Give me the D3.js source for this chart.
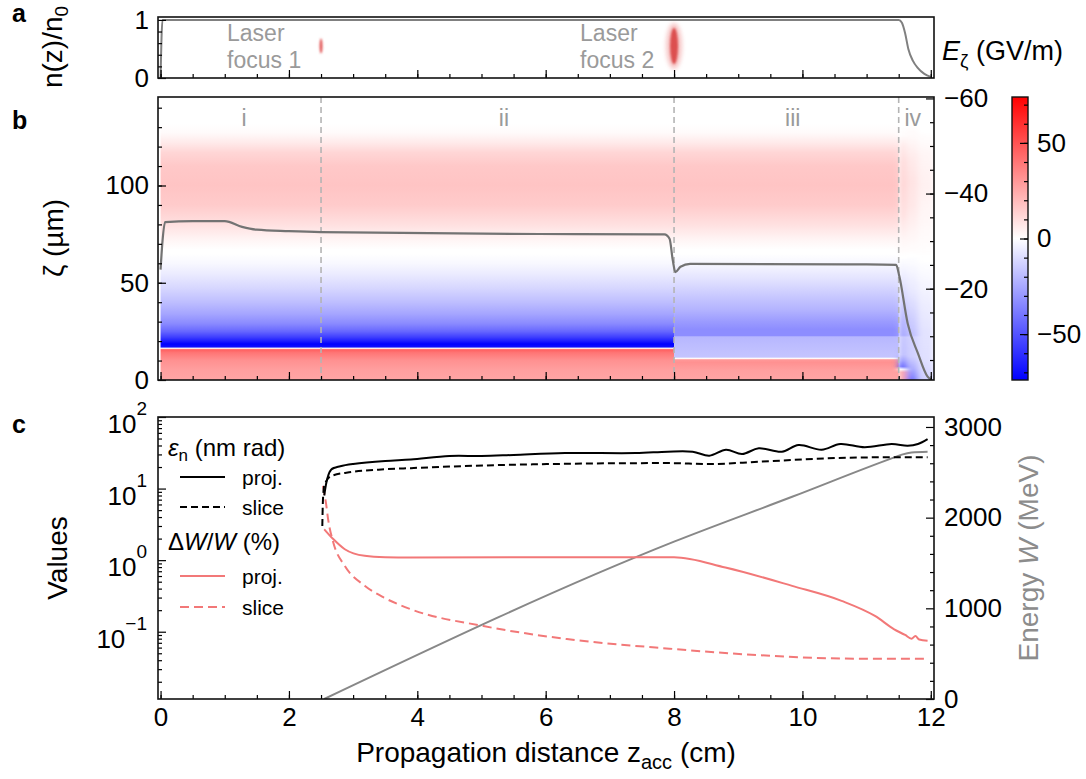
<!DOCTYPE html>
<html>
<head>
<meta charset="utf-8">
<script src="https://cdn.jsdelivr.net/npm/d3@7"></script>
<style>
  body { margin: 0; background: #fff; }
  svg text { font-family: "Liberation Sans", Arial, sans-serif; }
</style>
</head>
<body>
<svg id="fig" width="1086" height="779"></svg>
<script>
// ---------------- data ----------------
// panel a: plasma density n(z)/n0
const densityProfile = [[0, 0], [0.03, 1], [11.5, 1], [11.55, 0.95], [11.6, 0.77], [11.65, 0.5],
  [11.72, 0.3], [11.8, 0.17], [11.9, 0.07], [12, 0.02]];
const laserFoci = [{ z: 2.5, n: 0.55, label: ["Laser", "focus 1"] }, { z: 8, n: 0.55, label: ["Laser", "focus 2"] }];

// panel b: stages and on-axis field E_zeta(zeta) for each stretch of z
const stageBoundaries = [2.5, 8, 11.5];
const stageNames = ["i", "ii", "iii", "iv"];
const stageNameZ = [1.3, 5.35, 9.85, 11.72];

const upperPink = [[67, 0], [72, 3], [80, 9], [90, 15], [100, 17], [110, 16], [117, 12], [122, 6], [127, 1.5], [132, 0], [146, 0]];
const fieldStage12 = [[0, 26], [5, 28], [10, 32], [14, 40], [15.6, 46], [16.3, 0], [17, -70], [18.5, -74],
  [20, -66], [22, -56], [25, -44], [29, -34], [34, -26], [40, -19], [47, -12], [54, -6], [60, -2], [65, 0]].concat(upperPink);
const fieldStage3 = [[0, 26], [5, 28], [9, 32], [10.4, 30], [11.1, 0], [11.8, -17], [17, -19], [22.2, -21],
  [22.8, -33], [26, -33], [30, -29], [36, -22], [44, -15], [52, -8], [59, -3], [65, 0]].concat(upperPink);
const fieldStage4a = [[0, 26], [4, 28], [5.5, 0], [7, -50], [10, -32], [13, -20], [22, -18], [23, -28], [30, -24],
  [40, -15], [55, -5], [63, 0], [72, 3], [85, 10], [100, 13], [112, 11], [120, 7], [126, 1], [132, 0], [146, 0]];
const fieldStage4b = [[0, -40], [6, -24], [12, -14], [22, -13], [23, -18], [32, -14], [45, -7], [58, -2], [64, 0],
  [75, 3], [90, 7], [102, 8], [114, 6], [124, 2], [132, 0], [146, 0]];
const fieldStage4c = [[0, -14], [10, -9], [25, -8], [40, -5], [55, -1.5], [62, 0], [80, 2], [100, 4], [115, 3], [128, 0], [146, 0]];

const fieldColumns = [
  { z0: 0, z1: 8, profile: fieldStage12 },
  { z0: 8, z1: 11.5, profile: fieldStage3 },
  { z0: 11.5, z1: 11.62, profile: fieldStage4a, soft: true },
  { z0: 11.62, z1: 11.8, profile: fieldStage4b, soft: true },
  { z0: 11.8, z1: 12.05, profile: fieldStage4c, soft: true },
];

// panel b: wakefield amplitude (right axis, GV/m)
const wakeAmplitude = [[0, -24], [0.03, -30], [0.07, -34], [0.5, -34.2], [1.0, -34.2], [1.27, -33], [1.5, -32.4],
  [2.0, -32.1], [2.5, -31.9], [5.9, -31.5], [7.85, -31.4], [7.93, -30.5], [7.98, -26], [8.02, -23.5], [8.1, -24.6],
  [8.25, -25.2], [11.0, -25.1], [11.46, -25], [11.51, -22.6], [11.64, -12.7], [11.8, -6.4], [11.95, -1.5], [12, -0.9]];

// panel c
const emittanceProj = [[2.55, 8], [2.6, 14], [2.66, 18.5], [2.8, 20.5], [3.0, 22], [3.5, 24.3], [3.9, 25.5],
  [4.5, 28.5], [5.0, 28.5], [5.5, 29.5], [6.3, 31.3], [7.4, 31.3], [7.9, 32.8], [8.29, 32.7], [8.55, 28.8],
  [8.81, 34.9], [9.06, 30.4], [9.32, 36.5], [9.68, 32.7], [9.94, 40.6], [10.3, 34.9], [10.59, 41.9],
  [10.97, 37.7], [11.39, 41.9], [11.64, 39.7], [11.8, 42], [11.95, 49.2]];
const emittanceSlice = [[2.52, 3.0], [2.53, 7], [2.55, 11], [2.66, 15], [2.97, 17], [3.5, 18.6], [3.9, 19.3],
  [4.5, 20.3], [5.8, 21.8], [7.9, 22.7], [8.55, 22], [9.32, 23.7], [10.35, 26.4], [11.39, 27.4], [11.95, 27.4]];
const spreadProj = [[2.55, 2.7], [2.69, 1.97], [2.87, 1.42], [3.18, 1.15], [3.5, 1.1], [3.9, 1.09], [8.0, 1.1],
  [8.8, 0.79], [9.84, 0.437], [10.61, 0.27], [11.13, 0.166], [11.43, 0.108], [11.6, 0.09], [11.7, 0.08],
  [11.76, 0.087], [11.82, 0.078], [11.95, 0.075]];
const spreadSlice = [[2.53, 10.9], [2.58, 6], [2.61, 3.75], [2.69, 1.78], [2.87, 0.83], [3.18, 0.44], [3.48, 0.30],
  [3.9, 0.206], [5.03, 0.12], [6.33, 0.079], [7.93, 0.058], [9.32, 0.047], [10.87, 0.042], [11.95, 0.042]];
const beamEnergy = [[2.55, 0], [8.0, 1735], [9.84, 2230], [11.39, 2654], [11.55, 2695], [11.7, 2718], [11.95, 2727]];

const xMajor = [0, 2, 4, 6, 8, 10, 12];
const xMinor = d3.range(0, 12.01, 0.5);

// ---------------- layout ----------------
const svg = d3.select("#fig");
svg.append("rect").attr("width", 1086).attr("height", 779).attr("fill", "#fff");
const defs = svg.append("defs");
const left = 158, right = 934;
const pa = { top: 17, bottom: 78 }, pb = { top: 97, bottom: 380 }, pc = { top: 417, bottom: 699 };
const gray = "#9a9a9a", red = "#f27878";

const x = d3.scaleLinear().domain([-0.04, 12.05]).range([left, right]);
const yDens = d3.scaleLinear().domain([0, 1.05]).range([pa.bottom, pa.top]);
const yZeta = d3.scaleLinear().domain([0, 145.5]).range([pb.bottom, pb.top]);
const yWake = d3.scaleLinear().domain([-0.8, -60.3]).range([pb.bottom, pb.top]);
const fieldColor = d3.scaleLinear().domain([-74, 0, 74]).range(["#0000ff", "#ffffff", "#ff0000"]);
const yCbar = d3.scaleLinear().domain([-74, 74]).range([pb.bottom, pb.top]);
const yVal = d3.scaleLog().domain([Math.pow(10, -1.94), 100]).range([pc.bottom, pc.top]);
const yEnergy = d3.scaleLinear().domain([0, 3110]).range([pc.bottom, pc.top]);

function addAxis(orient, scale, transform, major, minor, fmt, pad = 9) {
  const g = svg.append("g").attr("transform", transform);
  if (minor) g.append("g").call(orient(scale).tickValues(minor).tickSize(-4).tickFormat(""));
  g.append("g").call(orient(scale).tickValues(major).tickSize(-8).tickPadding(pad).tickFormat(fmt || (() => "")));
  g.selectAll(".domain").remove();
  g.selectAll("line").attr("stroke", "#000").attr("stroke-width", 1.2);
  g.selectAll("text").attr("font-size", 26).attr("fill", "#000");
  return g;
}
function clip(id, top, bottom) {
  defs.append("clipPath").attr("id", id).append("rect")
    .attr("x", left).attr("y", top).attr("width", right - left).attr("height", bottom - top);
}
function frame(top, bottom) {
  svg.append("rect").attr("x", left).attr("y", top).attr("width", right - left).attr("height", bottom - top)
    .attr("fill", "none").attr("stroke", "#111").attr("stroke-width", 1.6);
}
function panelLabel(t, y) {
  svg.append("text").attr("x", 12).attr("y", y).attr("font-size", 25).attr("font-weight", "bold").text(t);
}
function yTitle(xb, yc, build, color = "#000") {
  const t = svg.append("text").attr("transform", `translate(${xb},${yc}) rotate(-90)`)
    .attr("text-anchor", "middle").attr("font-size", 28).attr("fill", color);
  build(t);
}

// ---------------- panel a ----------------
clip("clipA", pa.top, pa.bottom);
const gA = svg.append("g").attr("clip-path", "url(#clipA)");
const blurS = defs.append("filter").attr("id", "blurS").attr("x", "-200%").attr("y", "-50%").attr("width", "500%").attr("height", "200%");
blurS.append("feGaussianBlur").attr("stdDeviation", 0.9);
const blurL = defs.append("filter").attr("id", "blurL").attr("x", "-200%").attr("y", "-50%").attr("width", "500%").attr("height", "200%");
blurL.append("feGaussianBlur").attr("stdDeviation", 2.2);

laserFoci.forEach((f, i) => {
  const cx = x(f.z), cy = yDens(f.n);
  if (i === 0) {
    gA.append("ellipse").attr("cx", cx).attr("cy", cy).attr("rx", 1.4).attr("ry", 7.5)
      .attr("fill", "#e04848").attr("filter", "url(#blurS)");
  } else {
    gA.append("ellipse").attr("cx", cx).attr("cy", cy).attr("rx", 8).attr("ry", 23)
      .attr("fill", "#ec8080").attr("opacity", 0.45).attr("filter", "url(#blurL)");
    gA.append("ellipse").attr("cx", cx).attr("cy", cy).attr("rx", 4).attr("ry", 18)
      .attr("fill", "#dc5050").attr("filter", "url(#blurS)");
  }
  const t = svg.append("text").attr("fill", gray).attr("font-size", 23);
  t.append("tspan").attr("x", x(f.z) - 94).attr("y", 41).text(f.label[0]);
  t.append("tspan").attr("x", x(f.z) - 94).attr("y", 68).text(f.label[1]);
});

gA.append("path").datum(densityProfile)
  .attr("fill", "none").attr("stroke", "#808080").attr("stroke-width", 2)
  .attr("d", d3.line().x(d => x(d[0])).y(d => yDens(d[1])).curve(d3.curveMonotoneX));

addAxis(d3.axisBottom, x, `translate(0,${pa.bottom})`, xMajor, xMinor);
addAxis(d3.axisLeft, yDens, `translate(${left},0)`, [0, 1], [0.2, 0.4, 0.6, 0.8], d3.format("d"));
frame(pa.top, pa.bottom);
panelLabel("a", 22);
yTitle(62, 47, t => {
  t.append("tspan").text("n(z)/n");
  t.append("tspan").attr("font-size", 19).attr("dy", 6).text("0");
});

// ---------------- panel b ----------------
clip("clipB", pb.top, pb.bottom);
const gB = svg.append("g").attr("clip-path", "url(#clipB)");
const softBlur = defs.append("filter").attr("id", "soft").attr("x", "-20%").attr("y", "0").attr("width", "140%").attr("height", "100%");
softBlur.append("feGaussianBlur").attr("stdDeviation", "3 0");
const gSoft = gB.append("g");
const gSoftIV = gB.append("g").attr("filter", "url(#soft)");

fieldColumns.forEach((col, i) => {
  const zMax = yZeta.domain()[1];
  const grad = defs.append("linearGradient").attr("id", "fieldGrad" + i)
    .attr("gradientUnits", "userSpaceOnUse")
    .attr("x1", 0).attr("x2", 0).attr("y1", yZeta(0)).attr("y2", yZeta(zMax));
  grad.selectAll("stop").data(col.profile).join("stop")
    .attr("offset", d => Math.min(1, d[0] / zMax))
    .attr("stop-color", d => fieldColor(d[1]));
  (col.soft ? gSoftIV : gSoft).append("rect")
    .attr("x", x(col.z0)).attr("width", x(col.z1) - x(col.z0))
    .attr("y", pb.top).attr("height", pb.bottom - pb.top)
    .attr("fill", `url(#fieldGrad${i})`);
});

gB.selectAll(".stage-line").data(stageBoundaries).join("line")
  .attr("x1", d => x(d)).attr("x2", d => x(d)).attr("y1", pb.top).attr("y2", pb.bottom)
  .attr("stroke", "#b4b4b4").attr("stroke-width", 1.6).attr("stroke-dasharray", "6,4");

gB.append("path").datum(wakeAmplitude)
  .attr("fill", "none").attr("stroke", "#737373").attr("stroke-width", 2.2)
  .attr("d", d3.line().x(d => x(d[0])).y(d => yWake(d[1])).curve(d3.curveMonotoneX));

svg.selectAll(".stage-name").data(stageNames).join("text")
  .attr("x", (d, i) => x(stageNameZ[i])).attr("y", 126)
  .attr("text-anchor", "middle").attr("font-size", 23).attr("fill", gray).text(d => d);

addAxis(d3.axisBottom, x, `translate(0,${pb.bottom})`, xMajor, xMinor);
addAxis(d3.axisLeft, yZeta, `translate(${left},0)`, [0, 50, 100], d3.range(10, 141, 10), d3.format("d"));
addAxis(d3.axisRight, yWake, `translate(${right},0)`, [-60, -40, -20], d3.range(-55, -4, 5), d3.format("d"), 10);
frame(pb.top, pb.bottom);
panelLabel("b", 129);
yTitle(63, 238, t => t.text("ζ (µm)"));

// E_zeta label
const eLab = svg.append("text").attr("x", 942).attr("y", 60).attr("font-size", 27);
eLab.append("tspan").attr("font-style", "italic").text("E");
eLab.append("tspan").attr("font-size", 19).attr("dy", 7).text("ζ");
eLab.append("tspan").attr("dy", -7).text(" (GV/m)");

// colorbar
const cbX = 1012, cbW = 16;
const cbGrad = defs.append("linearGradient").attr("id", "cbGrad").attr("x1", 0).attr("x2", 0).attr("y1", 1).attr("y2", 0);
cbGrad.selectAll("stop").data([-74, 0, 74]).join("stop")
  .attr("offset", d => (d + 74) / 148).attr("stop-color", d => fieldColor(d));
svg.append("rect").attr("x", cbX).attr("y", pb.top).attr("width", cbW).attr("height", pb.bottom - pb.top)
  .attr("fill", "url(#cbGrad)").attr("stroke", "#111").attr("stroke-width", 1.4);
const cbAxis = svg.append("g").attr("transform", `translate(${cbX + cbW},0)`);
cbAxis.append("g").call(d3.axisRight(yCbar).tickValues(d3.range(-70, 71, 10)).tickSize(-4).tickFormat(""));
cbAxis.append("g").call(d3.axisRight(yCbar).tickValues([-50, 0, 50]).tickSize(-8).tickPadding(9).tickFormat(d3.format("d")));
cbAxis.selectAll(".domain").remove();
cbAxis.selectAll("line").attr("stroke", "#000").attr("stroke-width", 1.2);
cbAxis.selectAll("text").attr("font-size", 26).attr("fill", "#000");

// ---------------- panel c ----------------
clip("clipC", pc.top, pc.bottom);
const gC = svg.append("g").attr("clip-path", "url(#clipC)");
const lineVal = d3.line().x(d => x(d[0])).y(d => yVal(d[1]));

gC.append("path").datum(beamEnergy)
  .attr("fill", "none").attr("stroke", "#888").attr("stroke-width", 2)
  .attr("d", d3.line().x(d => x(d[0])).y(d => yEnergy(d[1])).curve(d3.curveMonotoneX));
gC.append("path").datum(spreadSlice)
  .attr("fill", "none").attr("stroke", red).attr("stroke-width", 2).attr("stroke-dasharray", "9,5")
  .attr("d", lineVal.curve(d3.curveMonotoneX));
gC.append("path").datum(spreadProj)
  .attr("fill", "none").attr("stroke", red).attr("stroke-width", 2)
  .attr("d", lineVal.curve(d3.curveMonotoneX));
gC.append("path").datum(emittanceSlice)
  .attr("fill", "none").attr("stroke", "#000").attr("stroke-width", 2).attr("stroke-dasharray", "7,4")
  .attr("d", lineVal.curve(d3.curveMonotoneX));
gC.append("path").datum(emittanceProj)
  .attr("fill", "none").attr("stroke", "#000").attr("stroke-width", 2)
  .attr("d", lineVal.curve(d3.curveCatmullRom.alpha(0.5)));

const logMajor = [0.1, 1, 10, 100];
const logMinor = [];
[0.01, 0.1, 1, 10].forEach(dec => d3.range(2, 10).forEach(m => {
  const v = dec * m;
  if (v >= yVal.domain()[0] && v <= 100) logMinor.push(v);
}));
addAxis(d3.axisBottom, x, `translate(0,${pc.bottom})`, xMajor, xMinor, d3.format("d"), 9);
addAxis(d3.axisLeft, yVal, `translate(${left},0)`, logMajor, logMinor);
addAxis(d3.axisRight, yEnergy, `translate(${right},0)`, [0, 1000, 2000, 3000], d3.range(200, 3001, 200).filter(v => v % 1000), d3.format("d"), 10);
logMajor.forEach(v => {
  const t = svg.append("text").attr("x", 147).attr("y", yVal(v) + 16).attr("text-anchor", "end").attr("font-size", 26);
  t.append("tspan").text("10");
  t.append("tspan").attr("font-size", 19).attr("dy", -18).text(String(Math.round(Math.log10(v))).replace("-", "\u2212"));
});
frame(pc.top, pc.bottom);
panelLabel("c", 433);
yTitle(67, 558, t => t.text("Values"));
yTitle(1038, 558, t => {
  t.append("tspan").text("Energy ");
  t.append("tspan").attr("font-style", "italic").text("W");
  t.append("tspan").text(" (MeV)");
}, "#8c8c8c");

// legend
const leg = svg.append("g");
const h1 = leg.append("text").attr("x", 168).attr("y", 456).attr("font-size", 24);
h1.append("tspan").attr("font-style", "italic").text("ε");
h1.append("tspan").attr("font-size", 17).attr("dy", 5).text("n");
h1.append("tspan").attr("dy", -5).text(" (nm rad)");
const h2 = leg.append("text").attr("x", 168).attr("y", 550).attr("font-size", 24);
h2.append("tspan").text("Δ");
h2.append("tspan").attr("font-style", "italic").text("W");
h2.append("tspan").text("/");
h2.append("tspan").attr("font-style", "italic").text("W");
h2.append("tspan").text(" (%)");
const legendItems = [
  { y: 477, color: "#000", dash: null, label: "proj." },
  { y: 507, color: "#000", dash: "7,4", label: "slice" },
  { y: 576, color: red, dash: null, label: "proj." },
  { y: 607, color: red, dash: "9,5", label: "slice" },
];
legendItems.forEach(it => {
  leg.append("line").attr("x1", 180).attr("x2", 225).attr("y1", it.y).attr("y2", it.y)
    .attr("stroke", it.color).attr("stroke-width", 2).attr("stroke-dasharray", it.dash);
  leg.append("text").attr("x", 242).attr("y", it.y + 7.5).attr("font-size", 21).text(it.label);
});

// x title
const xt = svg.append("text").attr("x", 546).attr("y", 762).attr("text-anchor", "middle").attr("font-size", 28);
xt.append("tspan").text("Propagation distance z");
xt.append("tspan").attr("font-size", 20).attr("dy", 7).text("acc");
xt.append("tspan").attr("dy", -7).text(" (cm)");
</script>
</body>
</html>
